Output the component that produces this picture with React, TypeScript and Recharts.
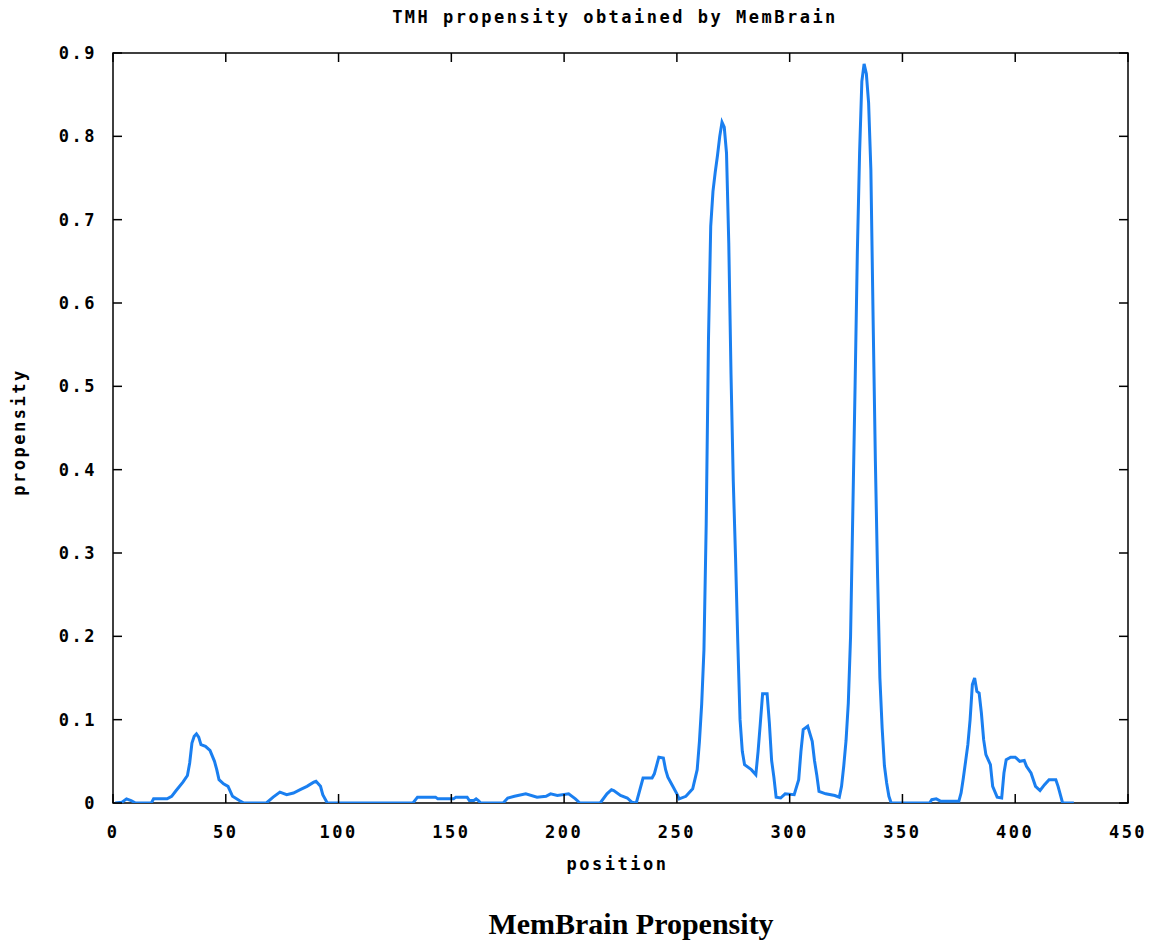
import { LineChart, Line, XAxis, YAxis, ReferenceArea } from 'recharts'

// residue position along the sequence
const positions = [
  1, 4, 6, 8, 10, 17, 18, 24, 26, 28, 31, 33, 34, 35, 36, 37, 38, 39, 41, 43, 45, 46, 47, 49, 51, 53, 56, 58,
  68, 71, 74, 77, 80, 83, 86, 89, 90, 92, 93, 95,
  133, 135, 143, 144, 151, 152, 157, 158, 160, 161, 162, 163,
  173, 175, 178, 183, 188, 192, 194, 197, 202, 205, 207,
  216, 219, 221, 222, 225, 228, 230, 232, 235, 239, 240, 242, 244, 245, 246, 248, 250, 251, 254, 257, 259,
  260, 261, 262, 263, 264, 265, 266, 267, 268, 269, 270, 271, 272, 273, 274, 275, 276, 277, 278, 279, 280,
  283, 285, 286, 287, 288, 290, 291, 292, 293, 294, 296, 298, 302, 304, 305, 306, 308, 310, 311, 312, 313,
  316, 320, 322, 323, 324, 325, 326, 327, 328, 329, 330, 331, 332, 333, 334, 335, 336, 337, 338, 339, 340,
  341, 342, 343, 344, 345,
  362, 363, 365, 367, 375, 376, 377, 378, 379, 380, 381, 382, 383, 384, 385, 386, 387, 389, 390, 392, 394,
  395, 396, 398, 400, 402, 404, 405, 407, 409, 411, 413, 415, 418, 419, 420, 421, 426,
]

// MemBrain TMH propensity at each position
const propensity = [
  0, 0.001, 0.005, 0.003, 0, 0, 0.005, 0.005, 0.008, 0.015, 0.025, 0.033, 0.048, 0.072, 0.08, 0.083, 0.079,
  0.07, 0.068, 0.063, 0.05, 0.04, 0.028, 0.023, 0.02, 0.008, 0.003, 0,
  0, 0.007, 0.013, 0.01, 0.012, 0.016, 0.02, 0.025, 0.026, 0.02, 0.01, 0,
  0, 0.007, 0.007, 0.005, 0.005, 0.007, 0.007, 0.003, 0.003, 0.005, 0.003, 0,
  0, 0.006, 0.008, 0.011, 0.007, 0.008, 0.011, 0.009, 0.011, 0.005, 0,
  0, 0.011, 0.016, 0.015, 0.009, 0.006, 0.001, 0, 0.03, 0.03, 0.035, 0.055, 0.054, 0.04, 0.031, 0.021,
  0.011, 0.005, 0.008, 0.017, 0.04,
  0.074, 0.119, 0.184, 0.335, 0.556, 0.692, 0.734, 0.757, 0.777, 0.8, 0.817, 0.811, 0.78, 0.672, 0.514,
  0.386, 0.295, 0.193, 0.1, 0.062, 0.046,
  0.04, 0.034, 0.062, 0.096, 0.131, 0.131, 0.096, 0.051, 0.031, 0.007, 0.006, 0.011, 0.01, 0.028, 0.062,
  0.088, 0.092, 0.074, 0.051, 0.034, 0.014,
  0.011, 0.009, 0.007, 0.02, 0.045, 0.075, 0.12, 0.2, 0.35, 0.5, 0.66, 0.78, 0.866, 0.887, 0.875, 0.84,
  0.76, 0.58, 0.41, 0.27, 0.15,
  0.09, 0.045, 0.024, 0.008, 0,
  0, 0.004, 0.005, 0.002, 0.002, 0.012, 0.03, 0.05, 0.07, 0.1, 0.142, 0.15, 0.134, 0.132, 0.108, 0.076,
  0.058, 0.046, 0.02, 0.007, 0.006,
  0.036, 0.052, 0.055, 0.055, 0.05, 0.051, 0.044, 0.036, 0.02, 0.015, 0.022, 0.028, 0.028, 0.02, 0.01, 0, 0,
]

const xTicks = [0, 50, 100, 150, 200, 250, 300, 350, 400, 450]
const yTicks = [0, 0.1, 0.2, 0.3, 0.4, 0.5, 0.6, 0.7, 0.8, 0.9]

const data = positions.map((pos, i) => ({ pos, value: propensity[i] }))

// plot box edges (gnuplot style frame with inward ticks on all sides)
const PLOT_TOP = 53
const PLOT_BOTTOM = 803
const PLOT_LEFT = 113
const PLOT_RIGHT = 1128
const TICK = 9

const MONO = '"DejaVu Sans Mono", monospace'
const monoText = {
  fontFamily: MONO,
  fontWeight: 700,
  fontSize: 17,
  letterSpacing: 2.5,
  fill: '#000',
}

const yLabel = (v: number) => (v === 0 ? '0' : v.toFixed(1))

function BottomTick(props: any) {
  const { x, payload } = props
  return (
    <g>
      <line x1={x} y1={PLOT_BOTTOM} x2={x} y2={PLOT_BOTTOM - TICK} stroke="#000" strokeWidth={1.5} />
      <line x1={x} y1={PLOT_TOP} x2={x} y2={PLOT_TOP + TICK} stroke="#000" strokeWidth={1.5} />
      <text x={x} y={PLOT_BOTTOM + 35} textAnchor="middle" style={monoText}>
        {payload.value}
      </text>
    </g>
  )
}

function LeftTick(props: any) {
  const { y, payload } = props
  return (
    <g>
      <line x1={PLOT_LEFT} y1={y} x2={PLOT_LEFT + TICK} y2={y} stroke="#000" strokeWidth={1.5} />
      <line x1={PLOT_RIGHT} y1={y} x2={PLOT_RIGHT - TICK} y2={y} stroke="#000" strokeWidth={1.5} />
      <text x={PLOT_LEFT - 16} y={y + 6} textAnchor="end" style={monoText}>
        {yLabel(payload.value)}
      </text>
    </g>
  )
}

export default function App() {
  return (
    <div style={{ position: 'absolute', left: 0, top: 0, width: 1155, height: 941, background: '#fff' }}>
      <LineChart width={1155} height={941} data={data} margin={{ top: 53, right: 27, bottom: 78, left: 0 }}>
        <XAxis
          dataKey="pos"
          type="number"
          domain={[0, 450]}
          ticks={xTicks}
          allowDataOverflow
          height={60}
          tickLine={false}
          axisLine={false}
          tick={(p: any) => <BottomTick {...p} />}
        />
        <YAxis
          type="number"
          domain={[0, 0.9]}
          ticks={yTicks}
          allowDataOverflow
          width={113}
          tickLine={false}
          axisLine={false}
          tick={(p: any) => <LeftTick {...p} />}
        />
        <ReferenceArea x1={0} x2={450} y1={0} y2={0.9} fill="none" stroke="#000" strokeWidth={1.5} />
        <Line
          type="linear"
          dataKey="value"
          stroke="#1a7ff0"
          strokeWidth={3}
          dot={false}
          isAnimationActive={false}
        />
      </LineChart>

      <div
        style={{
          position: 'absolute', left: 0, width: 1230, top: 6, textAlign: 'center',
          fontFamily: MONO, fontWeight: 700, fontSize: 17, letterSpacing: 2.5, lineHeight: '22px',
        }}
      >
        TMH propensity obtained by MemBrain
      </div>
      <div
        style={{
          position: 'absolute', left: 0, width: 1235, top: 853, textAlign: 'center',
          fontFamily: MONO, fontWeight: 700, fontSize: 17, letterSpacing: 2.5, lineHeight: '22px',
        }}
      >
        position
      </div>
      <div style={{ position: 'absolute', left: 19, top: 432, width: 0, height: 0 }}>
        <div
          style={{
            position: 'absolute', left: -80, top: -11, width: 160, textAlign: 'center',
            transform: 'rotate(-90deg)', fontFamily: MONO, fontWeight: 700, fontSize: 17,
            letterSpacing: 2.5, lineHeight: '22px',
          }}
        >
          propensity
        </div>
      </div>
      <div
        style={{
          position: 'absolute', left: 0, width: 1262, top: 906, textAlign: 'center',
          fontFamily: '"Liberation Serif", "Times New Roman", serif', fontWeight: 700, fontSize: 30,
          lineHeight: '36px',
        }}
      >
        MemBrain Propensity
      </div>
    </div>
  )
}
